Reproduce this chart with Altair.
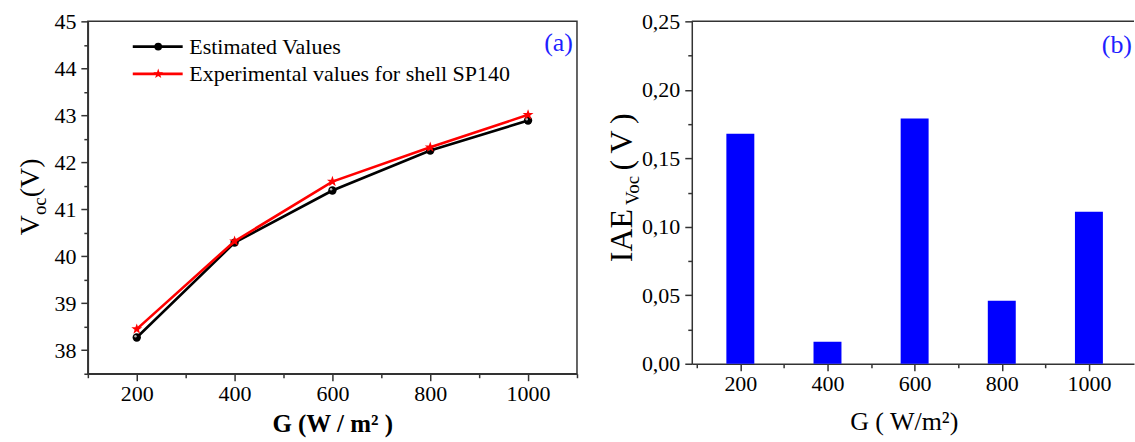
import altair as alt
import pandas as pd

# Irradiance levels (W/m^2)
irradiance = [200, 400, 600, 800, 1000]

# Open-circuit voltage, model vs. measurement (V)
voc_estimated = [38.27, 40.29, 41.40, 42.25, 42.89]
voc_experimental = [38.45, 40.32, 41.59, 42.32, 43.01]

# Individual absolute error of Voc (V)
iae_voc = [0.168, 0.016, 0.179, 0.046, 0.111]

legend_labels = ["Estimated Values", "Experimental values for shell SP140"]

FONT = "Liberation Serif"
FRAME = "#333333"
BLUE_TXT = "#1f1fff"
STAR = ("M0,-1L0.235,-0.324L0.951,-0.309L0.380,0.124L0.588,0.809L0,0.4"
        "L-0.588,0.809L-0.380,0.124L-0.951,-0.309L-0.235,-0.324Z")

est = pd.DataFrame({"G": irradiance, "Voc": voc_estimated})
exp_ = pd.DataFrame({"G": irradiance, "Voc": voc_experimental})
err = pd.DataFrame({"G": irradiance, "IAE": iae_voc})
one = alt.Data(values=[{}])

LW, LH = 490, 353
RW, RH = 443, 343


def txt(s, x, y, size, **kw):
    return alt.Chart(one).mark_text(text=s, font=FONT, fontSize=size, **kw).encode(
        x=alt.value(x), y=alt.value(y))


# ---------- (a) Voc vs G ----------
xa = alt.X("G:Q", title=None,
           scale=alt.Scale(domain=[100, 1100], nice=False, zero=False),
           axis=alt.Axis(values=list(range(100, 1101, 100)),
                         labelExpr="datum.value % 200 == 0 ? format(datum.value, 'd') : ''",
                         tickSize=alt.ExprRef("datum.value % 200 == 0 ? 7 : 4"),
                         labelPadding=3))
ya = alt.Y("Voc:Q", title=None,
           scale=alt.Scale(domain=[37.5, 45], nice=False, zero=False),
           axis=alt.Axis(values=[37.5 + 0.5 * i for i in range(16)],
                         labelExpr="datum.value % 1 == 0 ? format(datum.value, 'd') : ''",
                         tickSize=alt.ExprRef("datum.value % 1 == 0 ? 7 : 4"),
                         labelPadding=5))

base_est = alt.Chart(est).encode(x=xa, y=ya)
base_exp = alt.Chart(exp_).encode(x=xa, y=ya)

est_line = base_est.mark_line(color="black", strokeWidth=2.6)
est_pts = base_est.mark_point(shape="circle", filled=True, size=70, color="black", opacity=1)
est_hi = base_est.mark_point(shape="circle", filled=True, size=6, color="#b0b0b0",
                             opacity=1, xOffset=-1.3, yOffset=-1.3)
exp_line = base_exp.mark_line(color="red", strokeWidth=2.6)
exp_pts = base_exp.mark_point(shape=STAR, filled=True, size=130, color="red", opacity=1)

leg = [
    alt.Chart(one).mark_rule(color="black", strokeWidth=2.6).encode(
        x=alt.value(45), x2=alt.value(95), y=alt.value(25.3)),
    alt.Chart(one).mark_point(shape="circle", filled=True, size=60, color="black", opacity=1).encode(
        x=alt.value(70.5), y=alt.value(25.3)),
    alt.Chart(one).mark_rule(color="red", strokeWidth=2.6).encode(
        x=alt.value(45), x2=alt.value(95), y=alt.value(52.6)),
    alt.Chart(one).mark_point(shape=STAR, filled=True, size=110, color="red", opacity=1).encode(
        x=alt.value(70.5), y=alt.value(52.6)),
    txt(legend_labels[0], 101.6, 25.8, 22, align="left", baseline="middle"),
    txt(legend_labels[1], 101.6, 53.1, 22, align="left", baseline="middle"),
]

left_titles = [
    txt("(a)", 486, 22, 26, align="right", baseline="middle", color=BLUE_TXT),
    txt("G (W / m\u00b2 )", 245.3, 411, 25, align="center", baseline="alphabetic",
        fontWeight="bold"),
    txt("V", -48.7, 214.3, 28, angle=270, align="left", baseline="alphabetic"),
    txt("oc", -41.7, 194.1, 19, angle=270, align="left", baseline="alphabetic"),
    txt("(V)", -48.7, 176.2, 28, angle=270, align="left", baseline="alphabetic"),
]

left = alt.layer(est_line, est_pts, est_hi, exp_line, exp_pts, *leg, *left_titles).properties(
    width=LW, height=LH, view=alt.ViewBackground(stroke=FRAME, strokeWidth=1.5))

# ---------- (b) IAE of Voc ----------
xb = alt.X("G:Q", title=None,
           scale=alt.Scale(domain=[100, 1092], nice=False, zero=False),
           axis=alt.Axis(values=list(range(100, 1001, 100)),
                         labelExpr="datum.value % 200 == 0 ? format(datum.value, 'd') : ''",
                         tickSize=alt.ExprRef("datum.value % 200 == 0 ? 7 : 4"),
                         labelPadding=3))
yb = alt.Y("IAE:Q", title=None,
           scale=alt.Scale(domain=[0, 0.25], nice=False),
           axis=alt.Axis(values=[round(0.025 * i, 3) for i in range(11)],
                         labelExpr="round(datum.value * 1000) % 50 == 0 ? "
                                   "replace(format(datum.value, '.2f'), '.', ',') : ''",
                         tickSize=alt.ExprRef("round(datum.value * 1000) % 50 == 0 ? 7 : 4"),
                         labelPadding=5))

bars = alt.Chart(err).mark_bar(size=28, color="#0000ff").encode(x=xb, y=yb)
top_rule = alt.Chart(one).mark_rule(color=FRAME, strokeWidth=1.5).encode(
    x=alt.value(0), x2=alt.value(RW), y=alt.value(0))

right_titles = [
    txt("(b)", 441, 23.5, 26, align="right", baseline="middle", color=BLUE_TXT),
    txt("G ( W/m\u00b2)", 212.8, 409.3, 26, align="center", baseline="alphabetic"),
    txt("IAE", -59.7, 241.3, 32, angle=270, align="left", baseline="alphabetic"),
    txt("Voc", -52.7, 184.0, 19, angle=270, align="left", baseline="alphabetic"),
    txt("(\u2009V\u2009)", -59.7, 149.5, 32, angle=270, align="left", baseline="alphabetic"),
]

right = alt.layer(bars, top_rule, *right_titles).properties(
    width=RW, height=RH, view=alt.ViewBackground(strokeOpacity=0))

chart = alt.hconcat(left, right, spacing=115, bounds="flush").properties(
    padding={"left": 16, "top": 9, "right": 0, "bottom": 0}
).configure_axis(
    labelFont=FONT, labelFontSize=22, labelColor="black", grid=False,
    domainColor=FRAME, domainWidth=1.5, tickColor=FRAME, tickWidth=1.5,
)

chart.save("out.html", embed_options={"renderer": "svg", "actions": False})
